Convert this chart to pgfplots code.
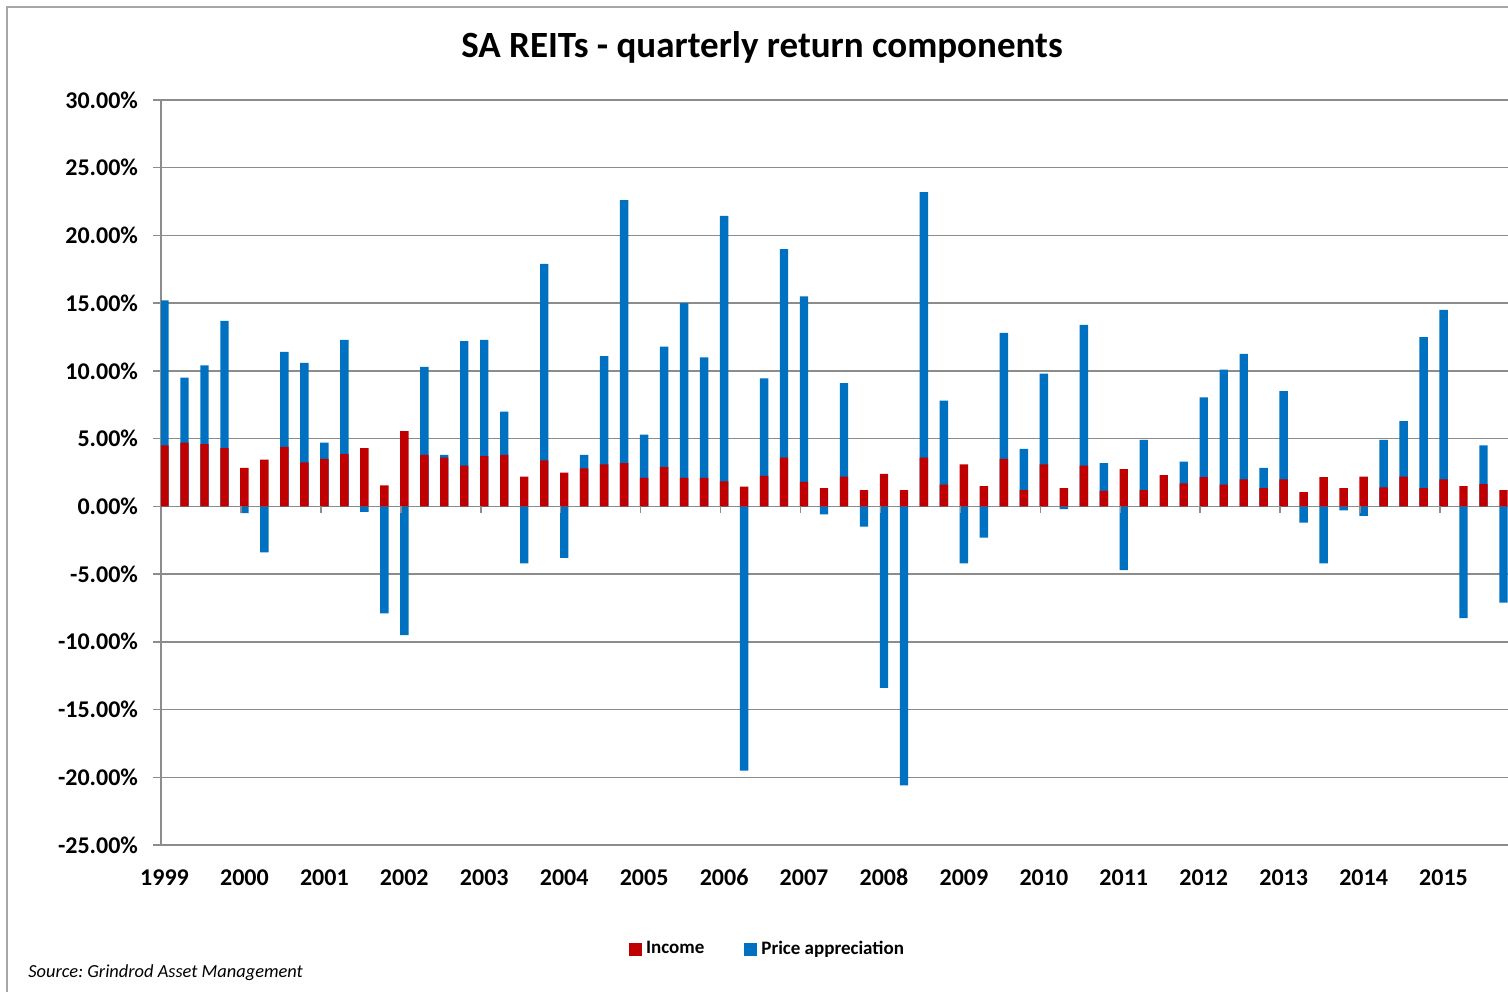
\documentclass[border=0pt]{standalone}
\usepackage{fontspec}
\setmainfont{Carlito}
\usepackage{pgfplots}
\usepackage{pgfplotstable}
\pgfplotsset{compat=1.18}
\definecolor{inc}{HTML}{C00000}
\definecolor{pa}{HTML}{0070C0}
\definecolor{gridc}{HTML}{8C8C8C}
\definecolor{framec}{HTML}{A6A6A6}

% quarter index, income (%), price appreciation (%)
\pgfplotstableread{
i inc price
0 4.5 10.7
1 4.7 4.8
2 4.6 5.8
3 4.3 9.4
4 2.85 -0.5
5 3.45 -3.4
6 4.4 7.0
7 3.25 7.35
8 3.5 1.2
9 3.85 8.45
10 4.3 -0.4
11 1.55 -7.9
12 5.55 -9.5
13 3.8 6.5
14 3.6 0.2
15 3.0 9.2
16 3.7 8.6
17 3.8 3.2
18 2.2 -4.2
19 3.4 14.5
20 2.5 -3.8
21 2.8 1.0
22 3.1 8.0
23 3.2 19.4
24 2.1 3.2
25 2.9 8.9
26 2.1 12.9
27 2.1 8.9
28 1.85 19.6
29 1.45 -19.5
30 2.25 7.2
31 3.6 15.4
32 1.8 13.7
33 1.35 -0.6
34 2.2 6.9
35 1.2 -1.5
36 2.4 -13.4
37 1.2 -20.6
38 3.6 19.6
39 1.6 6.2
40 3.1 -4.2
41 1.5 -2.3
42 3.5 9.3
43 1.2 3.05
44 3.1 6.7
45 1.35 -0.2
46 3.0 10.4
47 1.15 2.05
48 2.75 -4.7
49 1.2 3.7
50 2.3 0
51 1.7 1.6
52 2.15 5.9
53 1.6 8.5
54 2.0 9.25
55 1.35 1.5
56 2.0 6.5
57 1.05 -1.2
58 2.15 -4.2
59 1.35 -0.3
60 2.2 -0.7
61 1.4 3.5
62 2.2 4.1
63 1.35 11.15
64 2.0 12.5
65 1.5 -8.25
66 1.65 2.85
67 1.2 -7.1
}\data

\begin{document}
\begin{tikzpicture}
\useasboundingbox (0,0) rectangle (754pt,495.5pt);
\draw[framec, line width=0.8pt] (3.5pt,-2pt) -- (3.5pt,492pt) -- (760pt,492pt);
\node[font=\bfseries\fontsize{18.5}{22}\selectfont] at (381pt,472pt) {SA REITs - quarterly return components};
\node[anchor=base west, inner sep=0pt, font=\itshape\fontsize{9.2}{11}\selectfont] at (14pt,7pt) {\frenchspacing Source: Grindrod Asset Management};
\begin{axis}[
  at={(80.5pt,73pt)}, anchor=south west,
  scale only axis, width=673.5pt, height=372.5pt,
  xmin=-0.175, xmax=67.225,
  ymin=-25, ymax=30,
  ytick={-25,-20,...,30},
  xtick={0,4,...,64},
  xticklabels={1999,2000,2001,2002,2003,2004,2005,2006,2007,2008,2009,2010,2011,2012,2013,2014,2015},
  axis y line*=left,
  axis x line*=bottom,
  x axis line style={draw=none},
  y axis line style={gridc, line width=0.75pt},
  xtick style={draw=none},
  ytick style={gridc, line width=0.75pt},
  tick align=outside,
  major tick length=4pt,
  ymajorgrids,
  grid style={gridc, line width=0.75pt},
  /pgf/number format/assume math mode=true,
  tick label style={font=\bfseries\fontsize{12}{14}\selectfont},
  yticklabel={\pgfmathprintnumber[fixed,fixed zerofill,precision=2]{\tick}\%},
  yticklabel style={xshift=-4pt},
  xticklabel style={text height=8.5pt, text depth=0pt, yshift=-4pt},
  legend columns=2,
  legend style={at={(0.451,-0.1396)}, anchor=center, draw=none, fill=none,
    font=\bfseries\fontsize{9.5}{11}\selectfont,
    /tikz/every even column/.append style={column sep=18pt}},
  legend image code/.code={\fill[#1] (0pt,-3.25pt) rectangle (6.5pt,3.25pt);},
]
\addlegendimage{fill=inc, draw=none}
\addlegendentry{Income}
\addlegendimage{fill=pa, draw=none}
\addlegendentry{Price appreciation}
% price appreciation: stacked on income when positive, from zero when negative
\addplot[ybar, bar width=4.2pt, bar shift=0pt, fill=pa, draw=none, forget plot]
  table[x=i, y expr={\thisrow{price}>0 ? \thisrow{inc}+\thisrow{price} : \thisrow{price}}] {\data};
\addplot[ybar, bar width=4.2pt, bar shift=0pt, fill=inc, draw=none, forget plot]
  table[x=i, y=inc] {\data};
\pgfplotsinvokeforeach{1,...,16}{
  \draw[gridc, line width=0.75pt] (axis cs:{4*#1-0.175},0) -- ++(0pt,-3.5pt);
}
\end{axis}
\end{tikzpicture}
\end{document}
